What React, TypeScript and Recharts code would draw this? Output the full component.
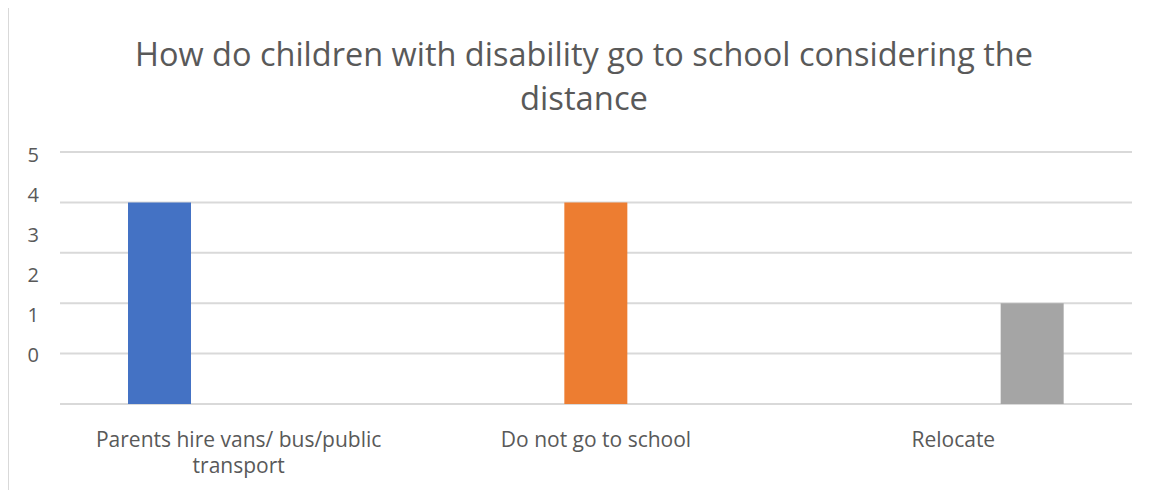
import { BarChart, Bar, XAxis, YAxis, CartesianGrid } from "recharts";

const categories = ["Parents hire vans/ bus/public transport", "Do not go to school", "Relocate"];
const categoryLines = [["Parents hire vans/ bus/public", "transport"], ["Do not go to school"], ["Relocate"]];
const hireTransport = [4, 0, 0];
const notGoing = [0, 4, 0];
const relocate = [0, 0, 2];
const yTicks = [0, 1, 2, 3, 4, 5];
const titleLines = ["How do children with disability go to school considering the", "distance"];

const data = categories.map((name, i) => ({
  name,
  hire: hireTransport[i],
  notGo: notGoing[i],
  relocate: relocate[i],
}));

const textColor = "#595959";
const gridColor = "#d9d9d9";

function CategoryTick(props: any) {
  const { x, y, payload } = props;
  const idx = categories.indexOf(payload.value);
  const lines = categoryLines[idx] || [payload.value];
  return (
    <text x={x} y={y} textAnchor="middle" fill={textColor} fontSize={21} fontFamily="Open Sans">
      {lines.map((l, i) => (
        <tspan key={i} x={x} dy={i === 0 ? 35 : 26}>
          {l}
        </tspan>
      ))}
    </text>
  );
}

export default function App() {
  return (
    <div
      style={{
        position: "relative",
        width: 1142,
        height: 483,
        marginTop: -1,
        borderTop: `1px solid ${gridColor}`,
        borderLeft: `1px solid ${gridColor}`,
        overflow: "hidden",
        background: "#fff",
        fontFamily: "Open Sans",
      }}
    >
      <svg width={1142} height={130} style={{ position: "absolute", left: 0, top: 0 }}>
        <text
          x={575}
          y={58}
          textAnchor="middle"
          fill={textColor}
          fontSize={32}
          fontFamily="Open Sans"
          textLength={898}
          lengthAdjust="spacingAndGlyphs"
        >
          {titleLines[0]}
        </text>
        <text
          x={575}
          y={102}
          textAnchor="middle"
          fill={textColor}
          fontSize={32}
          fontFamily="Open Sans"
          textLength={128}
          lengthAdjust="spacingAndGlyphs"
        >
          {titleLines[1]}
        </text>
      </svg>
      <BarChart
        width={1142}
        height={483}
        data={data}
        margin={{ top: 144, right: 19, bottom: 0, left: 0 }}
        barCategoryGap={68}
        barGap={16}
      >
        <CartesianGrid yAxisId="main" vertical={false} stroke={gridColor} strokeWidth={2} />
        <XAxis
          dataKey="name"
          axisLine={false}
          tickLine={false}
          height={87}
          interval={0}
          tick={<CategoryTick />}
        />
        <YAxis yAxisId="main" hide domain={[0, 5]} ticks={yTicks} type="number" />
        <YAxis
          yAxisId="labels"
          width={51}
          type="number"
          domain={[-1.225, 5.075]}
          allowDataOverflow
          ticks={yTicks}
          interval={0}
          axisLine={false}
          tickLine={false}
          tickSize={0}
          tickMargin={21}
          tick={{ fontSize: 20, fill: textColor, fontFamily: "Open Sans" }}
        />
        <Bar yAxisId="main" dataKey="hire" fill="#4472C4" isAnimationActive={false} />
        <Bar yAxisId="main" dataKey="notGo" fill="#ED7D31" isAnimationActive={false} />
        <Bar yAxisId="main" dataKey="relocate" fill="#A5A5A5" isAnimationActive={false} />
      </BarChart>
    </div>
  );
}
